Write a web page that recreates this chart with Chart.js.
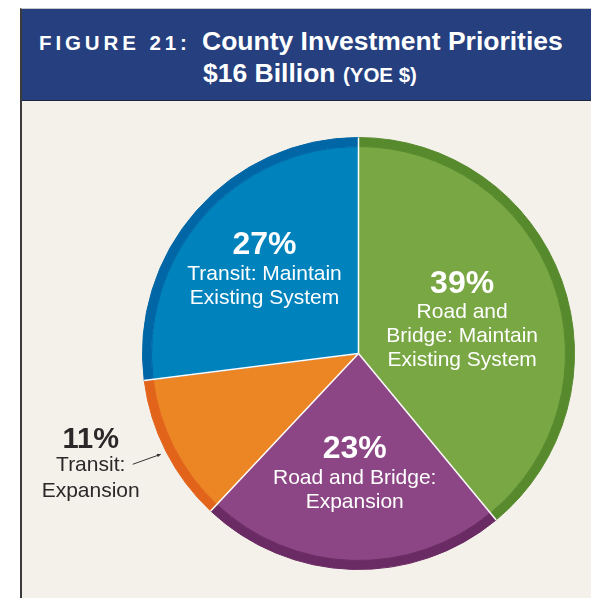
<!DOCTYPE html>
<html>
<head>
<meta charset="utf-8">
<script src="https://cdn.jsdelivr.net/npm/chart.js@4"></script>
<style>
  html, body { margin: 0; padding: 0; background: #fff; }
  body { width: 591px; height: 598px; position: relative; overflow: hidden; font-family: "Liberation Sans", Arial, sans-serif; }
  #frame { position: absolute; left: 20px; top: 8px; right: 0; bottom: 0; border-top: 1px solid #c9c9c9; border-left: 2px solid #3b3b3b; }
  #header { position: absolute; left: 0; top: 0; right: 0; height: 91px; background: #253f7f; border-bottom: 1px solid #1d2440; color: #fff; }
  #header div { position: absolute; white-space: nowrap; line-height: 1; font-weight: bold; }
  #fig { left: 17px; top: 23.6px; font-size: 20.5px; letter-spacing: 3.9px; }
  #title1 { left: 180px; top: 18.6px; font-size: 26.5px; }
  #title2 { left: 181px; top: 51.3px; font-size: 26.5px; }
  #title2 span { font-size: 20.5px; }
  #panel { position: absolute; left: 0; top: 92px; width: 569px; height: 497px; background: #f4f1eb; }
</style>
</head>
<body>
<div id="frame">
  <div id="header">
    <div id="fig">FIGURE 21:</div>
    <div id="title1">County Investment Priorities</div>
    <div id="title2">$16 Billion <span>(YOE $)</span></div>
  </div>
  <div id="panel"><canvas id="pieChart" width="569" height="497"></canvas></div>
</div>
<script>
const categories = ['Road and Bridge: Maintain Existing System', 'Road and Bridge: Expansion', 'Transit: Expansion', 'Transit: Maintain Existing System'];
const shares = [39, 23, 11, 27];
const labelLines = [
    ['Road and', 'Bridge: Maintain', 'Existing System'],
    ['Road and Bridge:', 'Expansion'],
    ['Transit:', 'Expansion'],
    ['Transit: Maintain', 'Existing System']
];
const fillColors = ['#79a744', '#8d4685', '#ec8625', '#0083bd'];
const rimColors = ['#578a2d', '#6a2a63', '#e2631a', '#0066a5'];

// white separators drawn along each slice's start angle
const separators = {
    id: 'separators',
    afterDatasetsDraw(chart) {
        const ctx = chart.ctx;
        ctx.save();
        ctx.strokeStyle = '#ffffff';
        ctx.lineWidth = 1.5;
        chart.getDatasetMeta(0).data.forEach(arc => {
            const p = arc.getProps(['x', 'y', 'startAngle', 'outerRadius'], true);
            ctx.beginPath();
            ctx.moveTo(p.x, p.y);
            ctx.lineTo(p.x + Math.cos(p.startAngle) * p.outerRadius, p.y + Math.sin(p.startAngle) * p.outerRadius);
            ctx.stroke();
        });
        ctx.restore();
    }
};

const sliceLabels = {
    id: 'sliceLabels',
    afterDraw(chart, args, opts) {
        const ctx = chart.ctx;
        ctx.save();
        ctx.textAlign = 'center';
        ctx.textBaseline = 'middle';
        chart.getDatasetMeta(0).data.forEach((arc, i) => {
            const p = arc.getProps(['x', 'y', 'startAngle', 'endAngle', 'outerRadius'], true);
            const mid = (p.startAngle + p.endAngle) / 2;
            const dx = Math.cos(mid), dy = Math.sin(mid);
            const lines = labelLines[i];
            const f = opts.radius[i];
            let cx, top, color, pctSize, gap, step;
            if (f === null) {
                // callout outside the pie
                const tip = { x: p.x + dx * (p.outerRadius + 6), y: p.y + dy * (p.outerRadius + 6) };
                const tail = { x: tip.x - 28, y: tip.y + 10 };
                ctx.strokeStyle = '#333';
                ctx.fillStyle = '#333';
                ctx.lineWidth = 1;
                ctx.beginPath();
                ctx.moveTo(tail.x, tail.y);
                ctx.lineTo(tip.x, tip.y);
                ctx.stroke();
                const a = Math.atan2(tip.y - tail.y, tip.x - tail.x);
                ctx.beginPath();
                ctx.moveTo(tip.x, tip.y);
                ctx.lineTo(tip.x - 4 * Math.cos(a - 0.45), tip.y - 4 * Math.sin(a - 0.45));
                ctx.lineTo(tip.x - 4 * Math.cos(a + 0.45), tip.y - 4 * Math.sin(a + 0.45));
                ctx.closePath();
                ctx.fill();
                cx = tail.x - 42;
                top = tail.y - 24;
                color = '#2b2829';
                pctSize = 29;
                gap = 25;
                step = 26;
            } else {
                cx = p.x + dx * p.outerRadius * f;
                const cy = p.y + dy * p.outerRadius * f + opts.shiftY[i];
                gap = 29;
                step = 24;
                top = cy - (gap + step * (lines.length - 1)) / 2;
                color = '#ffffff';
                pctSize = 32;
            }
            ctx.fillStyle = color;
            ctx.font = 'bold ' + pctSize + 'px "Liberation Sans", Arial, sans-serif';
            ctx.fillText(shares[i] + '%', cx, top);
            ctx.font = '21px "Liberation Sans", Arial, sans-serif';
            lines.forEach((t, k) => ctx.fillText(t, cx, top + gap + step * k));
        });
        ctx.restore();
    }
};

new Chart(document.getElementById('pieChart').getContext('2d'), {
    type: 'pie',
    data: {
        labels: categories,
        datasets: [{
            data: shares,
            backgroundColor: rimColors,
            borderColor: rimColors,
            borderWidth: 1,
            weight: 9,
            order: 1
        }, {
            data: shares,
            backgroundColor: fillColors,
            borderColor: rimColors,
            borderWidth: 1,
            weight: 207,
            order: 0
        }]
    },
    options: {
        responsive: false,
        animation: false,
        radius: 216,
        layout: { padding: { left: 104, right: 0, top: 8, bottom: 0 } },
        plugins: {
            legend: { display: false },
            tooltip: { enabled: false },
            sliceLabels: { radius: [0.51, 0.56, null, 0.58], shiftY: [6, 1, 0, 1] }
        }
    },
    plugins: [separators, sliceLabels]
});
</script>
</body>
</html>
